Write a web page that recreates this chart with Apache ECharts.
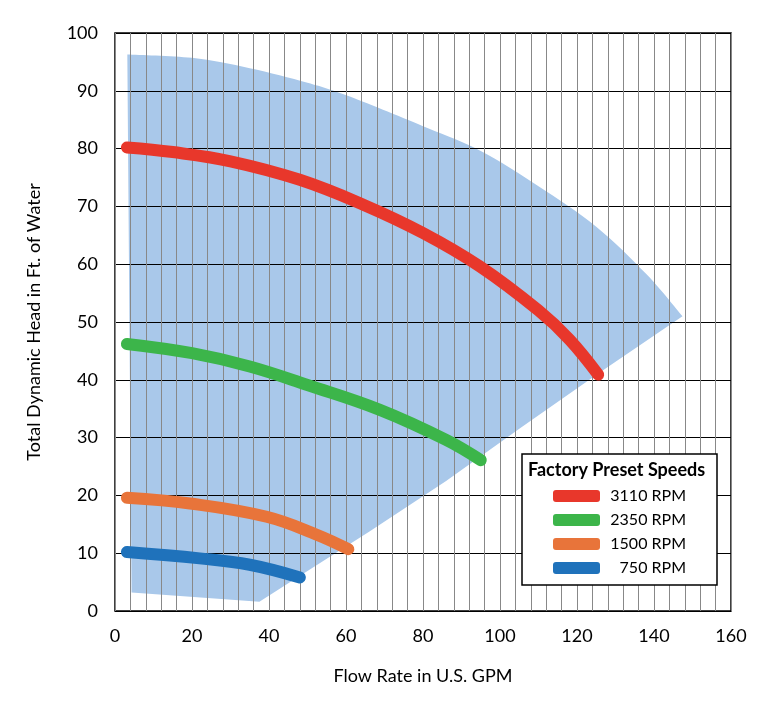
<!DOCTYPE html>
<html>
<head>
<meta charset="utf-8">
<script src="https://cdn.jsdelivr.net/npm/echarts@6/dist/echarts.min.js"></script>
<style>html,body{margin:0;padding:0;background:#fff;}#c{width:773px;height:701px;}</style>
</head>
<body>
<div id="c"></div>
<script>
// ---- data ----
const speedNames = ['3110 RPM', '2350 RPM', '1500 RPM', '750 RPM'];
const speedColors = ['#e8372b', '#3cb54a', '#e8743a', '#1f72bb'];
const rpm3110 = [[3.1, 80.2], [15, 79.4], [30, 77.8], [48, 74.6], [64.5, 70.3], [80, 65.4], [94.8, 59.6], [110, 52], [118, 47], [125.5, 40.9]];
const rpm2350 = [[3.1, 46.2], [20, 44.6], [35, 42.3], [50, 39.1], [68.8, 34.8], [86, 29.6], [95, 26.1]];
const rpm1500 = [[3.1, 19.6], [19.5, 18.6], [39.4, 16.3], [52.4, 13.2], [60.6, 10.7]];
const rpm750 = [[3.1, 10.2], [22, 9.1], [35, 8.0], [48, 5.8]];
// envelope: upper (curved) edge, left to right tip
const envTopX = [3.2, 20, 35, 50, 61, 81, 95, 110, 125, 138, 147.4];
const envTopY = [96.3, 95.7, 93.9, 91.4, 89.0, 83.6, 79.6, 73.5, 66.5, 58.3, 51];
// envelope: lower (straight) edge, from tip back to the left
const envLowX = [126, 105.2, 86, 66.2, 50, 37.5, 4.3];
const envLowY = [41.3, 31.6, 22.5, 13.8, 6.9, 1.6, 3.2];
const xTicks = [0, 20, 40, 60, 80, 100, 120, 140, 160];
const yTicks = [0, 10, 20, 30, 40, 50, 60, 70, 80, 90, 100];
const legendTitle = 'Factory Preset Speeds';
const xName = 'Flow Rate in U.S. GPM';
const yName = 'Total Dynamic Head in Ft. of Water';

const FONT = 'Lato';
const chart = echarts.init(document.getElementById('c'));
const curves = [rpm3110, rpm2350, rpm1500, rpm750];

function envelopePath(api) {
  const top = envTopX.map((x, i) => api.coord([x, envTopY[i]]));
  const low = envLowX.map((x, i) => api.coord([x, envLowY[i]]));
  let d = 'M' + top[0][0] + ' ' + top[0][1];
  // Catmull-Rom through the upper edge points
  for (let i = 0; i < top.length - 1; i++) {
    const p0 = top[Math.max(0, i - 1)], p1 = top[i], p2 = top[i + 1], p3 = top[Math.min(top.length - 1, i + 2)];
    const c1 = [p1[0] + (p2[0] - p0[0]) / 6, p1[1] + (p2[1] - p0[1]) / 6];
    const c2 = [p2[0] - (p3[0] - p1[0]) / 6, p2[1] - (p3[1] - p1[1]) / 6];
    d += ' C' + c1[0] + ' ' + c1[1] + ' ' + c2[0] + ' ' + c2[1] + ' ' + p2[0] + ' ' + p2[1];
  }
  low.forEach(p => { d += ' L' + p[0] + ' ' + p[1]; });
  return d + ' Z';
}

const series = [{
  type: 'custom',
  name: 'envelope',
  z: -1,
  silent: true,
  data: [0],
  renderItem: function (params, api) {
    return { type: 'path', shape: { pathData: envelopePath(api) }, style: { fill: '#a9c8ea' } };
  }
}];
curves.forEach((c, i) => {
  series.push({
    type: 'line', name: speedNames[i], data: c, smooth: 0.4, symbol: 'none',
    lineStyle: { width: 12, color: speedColors[i], cap: 'round', join: 'round' },
    itemStyle: { color: speedColors[i] }
  });
});

chart.setOption({
  animation: false,
  grid: { left: 115, right: 42, top: 33, bottom: 90, show: true, borderColor: '#000', borderWidth: 1.5, backgroundColor: 'transparent' },
  xAxis: {
    type: 'value', min: 0, max: 160, interval: 4,
    name: xName, nameLocation: 'middle', nameGap: 56,
    nameTextStyle: { fontFamily: FONT, fontSize: 18, color: '#000' },
    axisLine: { show: false }, axisTick: { show: false },
    axisLabel: { fontFamily: FONT, fontSize: 18, color: '#000', margin: 16,
      formatter: v => xTicks.indexOf(v) >= 0 ? String(v) : '' },
    splitLine: { show: true, lineStyle: { color: '#888', width: 1 } }
  },
  yAxis: {
    type: 'value', min: 0, max: 100, interval: 10,
    name: yName, nameLocation: 'middle', nameGap: 72,
    nameTextStyle: { fontFamily: FONT, fontSize: 18, color: '#000' },
    axisLine: { show: false }, axisTick: { show: false },
    axisLabel: { fontFamily: FONT, fontSize: 18, color: '#000', margin: 17,
      formatter: v => yTicks.indexOf(v) >= 0 ? String(v) : '' },
    splitLine: { show: true, lineStyle: { color: '#000', width: 1 } }
  },
  legend: {
    orient: 'vertical', left: 522, top: 454,
    data: speedNames, icon: 'roundRect', itemWidth: 47, itemHeight: 12, itemGap: 8,
    backgroundColor: '#fff', borderColor: '#000', borderWidth: 1.5,
    padding: [34, 31, 9, 31], z: 10,
    selectedMode: false,
    formatter: n => '{a|' + n + '}',
    textStyle: { rich: { a: { width: 81, align: 'right', fontFamily: FONT, fontSize: 16, lineHeight: 16, color: '#000' } } }
  },
  graphic: [{
    type: 'text', left: 528, top: 461, z: 100,
    style: { text: legendTitle, fontFamily: FONT, fontWeight: 'bold', fontSize: 18, fill: '#000' }
  }],
  series: series
});
</script>
</body>
</html>
